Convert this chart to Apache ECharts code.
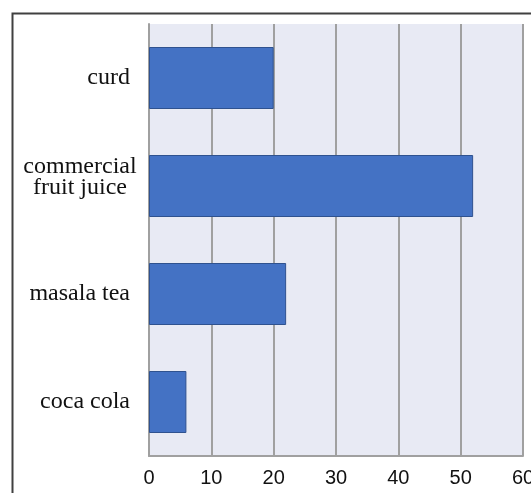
<!DOCTYPE html>
<html><head><meta charset="utf-8">
<script src="https://cdn.jsdelivr.net/npm/echarts@6/dist/echarts.min.js"></script>
<style>html,body{margin:0;padding:0;background:#fff}#c{width:531px;height:493px}</style>
</head><body><div id="c"></div>
<script>
const categories = ['curd', 'commercial\nfruit juice', 'masala tea', 'coca cola'];
const values = [20, 52, 22, 6];
const xTicks = { min: 0, max: 60, interval: 10 };

const chart = echarts.init(document.getElementById('c'), null, { renderer: 'canvas' });
chart.setOption({
  animation: false,
  backgroundColor: '#ffffff',
  graphic: [{
    type: 'rect', left: 10, top: 11, z: -1,
    shape: { width: 700, height: 700 },
    style: { fill: 'none', stroke: '#404040', lineWidth: 2 }
  }],
  grid: { left: 149, right: 8, top: 24, bottom: 37, show: true, backgroundColor: '#e8eaf4', borderWidth: 0, outerBoundsMode: 'none', containLabel: false },
  xAxis: {
    type: 'value', min: xTicks.min, max: xTicks.max, interval: xTicks.interval,
    axisLine: { show: true, lineStyle: { color: '#a0a0a0', width: 2 } },
    axisTick: { show: false },
    splitLine: { show: true, lineStyle: { color: '#a0a0a0', width: 2 } },
    axisLabel: { color: '#111', fontFamily: 'Liberation Sans', fontSize: 20, margin: 12 }
  },
  yAxis: {
    type: 'category', data: categories, inverse: true,
    axisLine: { show: true, lineStyle: { color: '#a0a0a0', width: 2 } },
    axisTick: { show: false },
    splitLine: { show: false },
    axisLabel: {
      color: '#111', fontFamily: 'Liberation Serif', fontSize: 24, lineHeight: 21, margin: 19, align: 'right',
      formatter: function (v) {
        return v.indexOf('\n') >= 0 ? v.split('\n').map(function (s) { return '{c|' + s + '}'; }).join('\n') + '\n{e| }' : v;
      },
      rich: {
        c: { fontFamily: 'Liberation Serif', fontSize: 24, lineHeight: 21, width: 100, align: 'center', color: '#111' },
        e: { fontSize: 10, lineHeight: 18 }
      }
    }
  },
  series: [{
    type: 'bar', data: values, barWidth: 62,
    itemStyle: { color: '#4472c4', borderColor: '#2f528f', borderWidth: 1 }
  }]
});
</script></body></html>
